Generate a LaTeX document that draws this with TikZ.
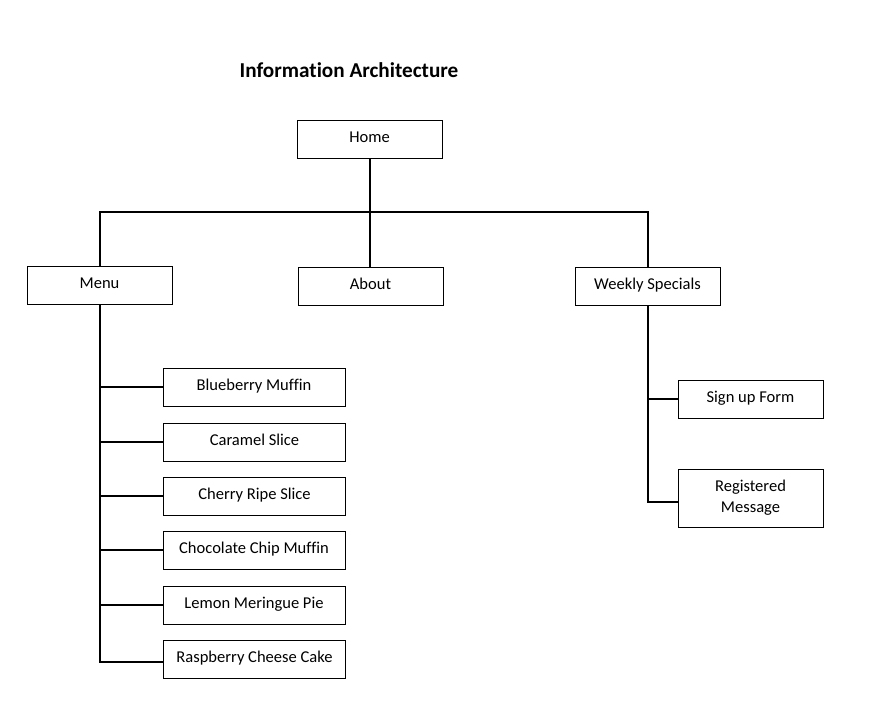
\documentclass[tikz,border=0pt]{standalone}
\usepackage{fontspec}
\setmainfont{Carlito}[Ligatures=NoCommon]
\begin{document}
\begin{tikzpicture}[x=0.75pt,y=-0.75pt,
  box/.style={draw=black,line width=0.75pt,minimum width=108.75pt,minimum height=28.5pt,inner sep=0pt,font=\fontsize{12.4pt}{15.75pt}\selectfont,text height=10pt,text depth=5pt},
  itembox/.style={box,minimum width=136.5pt},
  link/.style={draw=black,line width=1.5pt,line join=miter}]
\useasboundingbox (0,0) rectangle (886,711);
\node[font=\bfseries\fontsize{15.9pt}{19pt}\selectfont] (title) at (349,70) {Information Architecture};
\node[box] (home) at (369.5,139) {Home};
\node[box] (menu) at (99.5,285) {Menu};
\node[box] (about) at (370.5,286) {About};
\node[box] (ws) at (647.5,286) {Weekly Specials};
\node[itembox] (bm) at (254,387) {Blueberry Muffin};
\node[itembox] (cs) at (254.5,442) {Caramel Slice};
\node[itembox] (crs) at (254.5,496) {Cherry Ripe Slice};
\node[itembox] (ccm) at (254,550) {Chocolate Chip Muffin};
\node[itembox] (lmp) at (254,605) {Lemon Meringue Pie};
\node[itembox] (rcc) at (254.5,659) {Raspberry Cheese Cake};
\node[box] (suf) at (750.5,399) {Sign up Form};
\node[box,minimum height=43.5pt,align=center,text height=,text depth=] (reg) at (750.5,498) {Registered\\Message};
\coordinate (bus) at (370,212);
\draw[link] (home.south) -- (home.south |- about.north);
\draw[link] (menu.north) |- (bus) -| (ws.north);
\draw[link] (menu.south) |- ([yshift=-2.25pt]rcc.west);
\foreach \n in {bm,cs,crs,ccm,lmp}
  \draw[link] (menu.south |- \n.west) -- (\n.west);
\draw[link] (ws.south) |- ([yshift=-3pt]reg.west);
\draw[link] (ws.south |- suf.west) -- (suf.west);
\end{tikzpicture}
\end{document}
